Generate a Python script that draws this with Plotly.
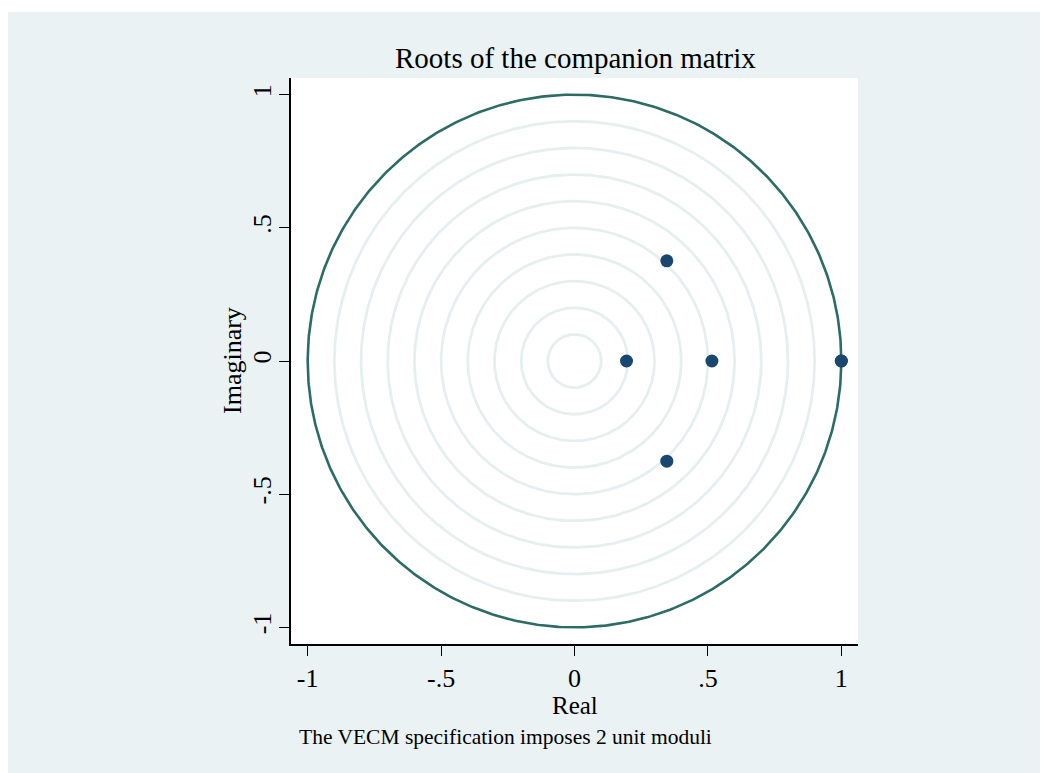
import numpy as np
import plotly.graph_objects as go

# Eigenvalues of the companion matrix
real_part = [1.0, 1.0, 0.515, 0.195, 0.346, 0.346]
imag_part = [0.0, 0.0, 0.0, 0.0, 0.376, -0.376]

grid_radii = [0.1, 0.2, 0.3, 0.4, 0.5, 0.6, 0.7, 0.8, 0.9]
unit_radius = 1.0

tick_vals = [-1, -0.5, 0, 0.5, 1]
tick_text = ["-1", "-.5", "0", ".5", "1"]

BG = "#EAF2F3"
GRID = "#E6EFF0"
CIRCLE = "#2C6C66"
DOT = "#1A476F"
FONT = "Liberation Serif"

theta = np.linspace(0, 2 * np.pi, 721)

fig = go.Figure()
for r in grid_radii:
    fig.add_trace(go.Scatter(x=r * np.cos(theta), y=r * np.sin(theta), mode="lines",
                             line=dict(color=GRID, width=2.8), hoverinfo="skip", showlegend=False))
fig.add_trace(go.Scatter(x=unit_radius * np.cos(theta), y=unit_radius * np.sin(theta), mode="lines",
                         line=dict(color=CIRCLE, width=2.6), hoverinfo="skip", showlegend=False))
fig.add_trace(go.Scatter(x=real_part, y=imag_part, mode="markers",
                         marker=dict(color=DOT, size=13), showlegend=False))

# page body has an 8px margin: figure origin sits at (8, 8) on screen
OX, OY = 8, 8
W, H = 1048, 773
L = 291 - OX
T = 78 - OY
R = W - (858 - OX)
B = H - (644 - OY)
pw, ph = W - L - R, H - T - B

def px(xs):
    return (xs - OX - L) / pw

def py(ys):
    return (H - B - (ys - OY)) / ph

rng = 1.0625
fig.update_layout(
    width=W, height=H,
    margin=dict(l=L, r=R, t=T, b=B, pad=0),
    paper_bgcolor=BG, plot_bgcolor="white",
    font=dict(family=FONT, color="black"),
    xaxis=dict(range=[-rng, rng], tickvals=tick_vals, ticktext=tick_text, showgrid=False,
               zeroline=False, showline=True, linecolor="black", linewidth=1.5,
               ticks="outside", ticklen=10, tickcolor="black", tickwidth=1.2,
               tickfont=dict(size=26, family=FONT), ticklabelstandoff=0),
    yaxis=dict(range=[-rng, rng], tickvals=tick_vals, ticktext=tick_text, showgrid=False,
               zeroline=False, showline=True, linecolor="black", linewidth=1.5,
               ticks="outside", ticklen=10, tickcolor="black", tickwidth=1.2,
               tickangle=-90, tickfont=dict(size=26, family=FONT), ticklabelstandoff=-2),
    shapes=[
        dict(type="rect", xref="paper", yref="paper", x0=px(0), x1=px(W + 20), y0=py(OY - 2), y1=py(12),
             fillcolor="white", line=dict(width=0), layer="above"),
    ],
    annotations=[
        dict(text="Roots of the companion matrix", xref="paper", yref="paper", x=px(575), y=py(58),
             showarrow=False, xanchor="center", yanchor="middle", font=dict(size=29, family=FONT)),
        dict(text="Real", xref="paper", yref="paper", x=px(575), y=py(706),
             showarrow=False, xanchor="center", yanchor="middle", font=dict(size=25, family=FONT)),
        dict(text="Imaginary", xref="paper", yref="paper", x=px(232), y=py(361), textangle=-90,
             showarrow=False, xanchor="center", yanchor="middle", font=dict(size=26, family=FONT)),
        dict(text="The VECM specification imposes 2 unit moduli", xref="paper", yref="paper",
             x=px(297), y=py(737), showarrow=False, xanchor="left", yanchor="middle",
             font=dict(size=21.5, family=FONT)),
    ],
)

fig.write_html("out.html")
